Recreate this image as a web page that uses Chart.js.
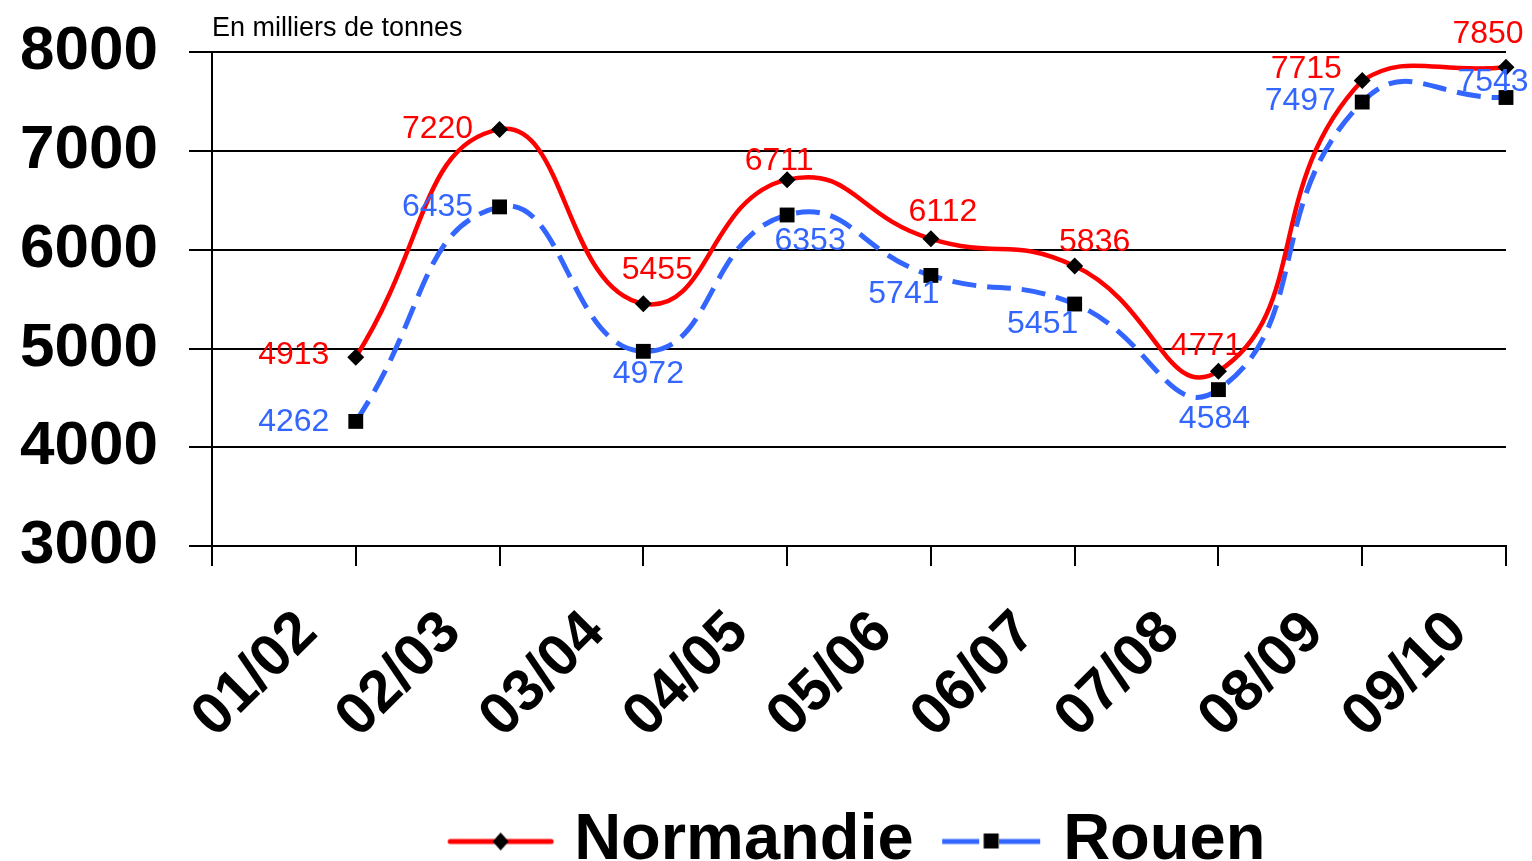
<!DOCTYPE html>
<html>
<head>
<meta charset="utf-8">
<script src="https://cdn.jsdelivr.net/npm/chart.js@4.4.1/dist/chart.umd.min.js"></script>
<style>
html,body{margin:0;padding:0;background:#fff;overflow:hidden}
#wrap{width:1532px;height:861px;position:relative}
</style>
</head>
<body>
<div id="wrap"><canvas id="c"></canvas></div>
<script>
// ---- data ----
const seasons = ['01/02','02/03','03/04','04/05','05/06','06/07','07/08','08/09','09/10'];
const normandie = [4913, 7220, 5455, 6711, 6112, 5836, 4771, 7715, 7850];
const rouen = [4262, 6435, 4972, 6353, 5741, 5451, 4584, 7497, 7543];
const seriesNames = ['Normandie', 'Rouen'];
const unitLabel = 'En milliers de tonnes';
const yMin = 3000, yMax = 8000, yStep = 1000;

// ---- label placement (text centre relative to its point) ----
const normandieLabelShift = [[-62,-2],[-62,0],[14,-33],[-8,-18],[12,-27],[20,-24],[-12,-25],[-56,-11],[-18,-33]];
const rouenLabelShift = [[-62,1],[-62,0],[5,23],[23,26],[-27,19],[-32,20],[-4,30],[-62,-1],[-13,-15]];

const FONT = '"Liberation Sans", Arial, sans-serif';
const RED = '#FF0000';
const BLUE = '#3366FF';

function toPoints(values) {
  // points sit on the right boundary of each season's category
  return values.map((v, i) => ({ x: i + 1, y: v }));
}

function legendSymbol(kind) {
  const c = document.createElement('canvas');
  c.width = 160; c.height = 24;
  const g = c.getContext('2d');
  const x0 = 30, x1 = 137, cy = 12;
  if (kind === 'diamond') {
    const mid = (x0 + x1) / 2;
    g.strokeStyle = RED; g.lineWidth = 5; g.lineCap = 'round';
    g.beginPath(); g.moveTo(x0 + 3, cy); g.lineTo(x1 - 3, cy); g.stroke();
    g.fillStyle = '#000';
    g.beginPath(); g.moveTo(mid, cy - 9); g.lineTo(mid + 8, cy); g.lineTo(mid, cy + 9); g.lineTo(mid - 8, cy); g.closePath(); g.fill();
  } else {
    const a = x0 + 6, b = x1 - 3, mid = (a + b) / 2;
    g.strokeStyle = BLUE; g.lineWidth = 5;
    g.beginPath(); g.moveTo(a, cy); g.lineTo(mid - 12, cy); g.stroke();
    g.beginPath(); g.moveTo(mid + 8, cy); g.lineTo(b, cy); g.stroke();
    g.fillStyle = '#000';
    g.fillRect(mid - 7.5, cy - 8, 15, 15);
  }
  return c;
}
const legendSymbols = [legendSymbol('diamond'), legendSymbol('square')];

const valueLabels = {
  id: 'valueLabels',
  afterDatasetsDraw(chart) {
    const ctx = chart.ctx;
    chart.data.datasets.forEach((ds, di) => {
      const meta = chart.getDatasetMeta(di);
      meta.data.forEach((pt, i) => {
        const s = ds.labelShift[i];
        ctx.save();
        ctx.font = '32px ' + FONT;
        ctx.fillStyle = ds.labelColor;
        ctx.textAlign = 'center';
        ctx.textBaseline = 'middle';
        ctx.fillText(String(ds.data[i].y), pt.x + s[0], pt.y + s[1]);
        ctx.restore();
      });
    });
  }
};

new Chart(document.getElementById('c'), {
  type: 'line',
  data: {
    labels: seasons,
    datasets: [
      {
        label: seriesNames[0],
        data: toPoints(normandie),
        xAxisID: 'xd',
        borderColor: RED,
        borderWidth: 4.5,
        tension: 0.5,
        pointStyle: 'rectRot',
        pointRadius: 8.5,
        pointBackgroundColor: '#000',
        pointBorderColor: '#000',
        pointBorderWidth: 0,
        clip: false,
        labelColor: RED,
        labelShift: normandieLabelShift
      },
      {
        label: seriesNames[1],
        data: toPoints(rouen),
        xAxisID: 'xd',
        borderColor: BLUE,
        borderWidth: 5,
        borderDash: [24, 11],
        tension: 0.5,
        pointStyle: 'rect',
        pointRadius: 10.5,
        pointBackgroundColor: '#000',
        pointBorderColor: '#000',
        pointBorderWidth: 0,
        clip: false,
        labelColor: BLUE,
        labelShift: rouenLabelShift
      }
    ]
  },
  options: {
    responsive: true,
    maintainAspectRatio: false,
    animation: false,
    events: [],
    layout: { padding: { left: 15, right: 26, top: 0, bottom: -23 } },
    scales: {
      x: {
        type: 'category',
        position: 'bottom',
        offset: true,
        grid: { offset: true, drawOnChartArea: false, drawTicks: true, tickLength: 20, color: '#000', lineWidth: 2 },
        border: { display: true, color: '#000', width: 2 },
        ticks: {
          autoSkip: false, minRotation: 45, maxRotation: 45,
          color: '#000', padding: 32, labelOffset: 24,
          font: { family: FONT, size: 59, weight: 'bold' }
        },
        afterFit(scale) { scale.height = 235; }
      },
      xd: {
        type: 'linear',
        display: false,
        min: 0,
        max: seasons.length
      },
      y: {
        type: 'linear',
        min: yMin, max: yMax,
        grid: { color: '#000', lineWidth: 2, tickLength: 23, drawTicks: true },
        border: { display: true, color: '#000', width: 2 },
        ticks: {
          stepSize: yStep, color: '#000', padding: 31,
          font: { family: FONT, size: 62, weight: 'bold' },
          callback: (v) => String(v)
        },
        afterFit(scale) {
          scale.width = 197;
          scale.paddingTop = 36;
          scale.paddingBottom = 36;
        }
      }
    },
    plugins: {
      title: {
        display: true, text: unitLabel, align: 'start', fullSize: false,
        color: '#000', font: { family: FONT, size: 27, weight: 'normal' },
        padding: { top: 12, bottom: 8 }
      },
      legend: {
        position: 'bottom',
        fullSize: false,
        labels: {
          usePointStyle: true,
          pointStyleWidth: 89,
          padding: 28,
          color: '#000',
          font: { family: FONT, size: 65, weight: 'bold' },
          generateLabels(chart) {
            return chart.data.datasets.map((d, i) => ({
              text: d.label, pointStyle: legendSymbols[i], fillStyle: '#000',
              strokeStyle: '#000', lineWidth: 0, hidden: false, datasetIndex: i, fontColor: '#000'
            }));
          }
        }
      },
      tooltip: { enabled: false }
    }
  },
  plugins: [valueLabels]
});
</script>
</body>
</html>
